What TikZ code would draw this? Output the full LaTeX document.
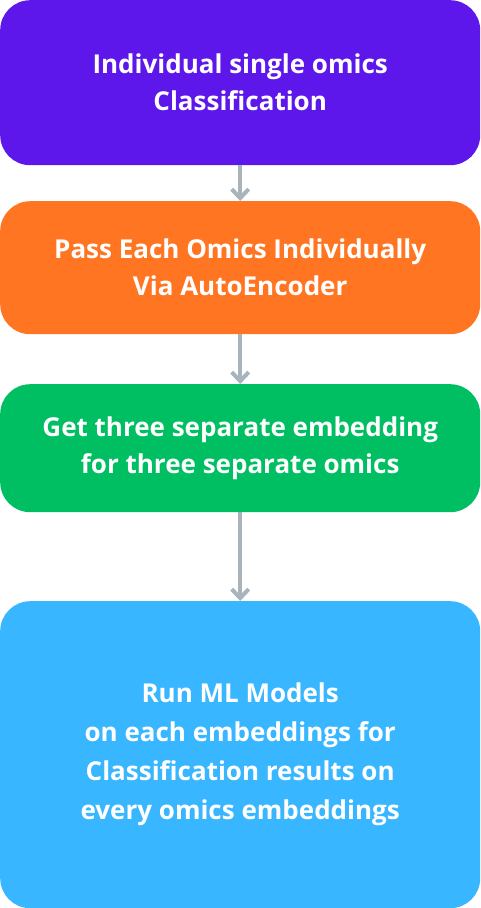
\documentclass[tikz,border=0pt]{standalone}
\usepackage{fontspec}
\setmainfont{Open Sans}
\usetikzlibrary{arrows.meta}
\definecolor{boxpurple}{HTML}{5E17EB}
\definecolor{boxorange}{HTML}{FF7522}
\definecolor{boxgreen}{HTML}{00BF63}
\definecolor{boxblue}{HTML}{38B6FF}
\definecolor{arrowgray}{HTML}{A8B3BB}
\begin{document}
\begin{tikzpicture}[x=1pt,y=-1pt,
  stage/.style={rounded corners=30pt,minimum width=480pt,inner sep=0pt,
    text=white,font=\bfseries\fontsize{26}{37}\selectfont,align=center,anchor=north west},
  flow/.style={draw=arrowgray,line width=4pt,
    -{Straight Barb[length=9pt,width=17pt,line width=4pt]}}]
\useasboundingbox (0,0) rectangle (481,908);
\node[stage,fill=boxpurple,minimum height=165pt] (s1) at (0,0)
  {Individual single omics\\Classification};
\node[stage,fill=boxorange,minimum height=133pt] (s2) at (0,201)
  {Pass Each Omics Individually\\Via AutoEncoder};
\node[stage,fill=boxgreen,minimum height=128pt] (s3) at (0,384)
  {Get three separate embedding\\for three separate omics};
\node[stage,fill=boxblue,minimum height=307pt,font=\bfseries\fontsize{26}{39}\selectfont] (s4) at (0,601)
  {Run ML Models\\on each embeddings for\\Classification results on\\every omics embeddings};
\draw[flow] (s1.south) -- (s2.north);
\draw[flow] (s2.south) -- (s3.north);
\draw[flow] (s3.south) -- (s4.north);
\end{tikzpicture}
\end{document}
